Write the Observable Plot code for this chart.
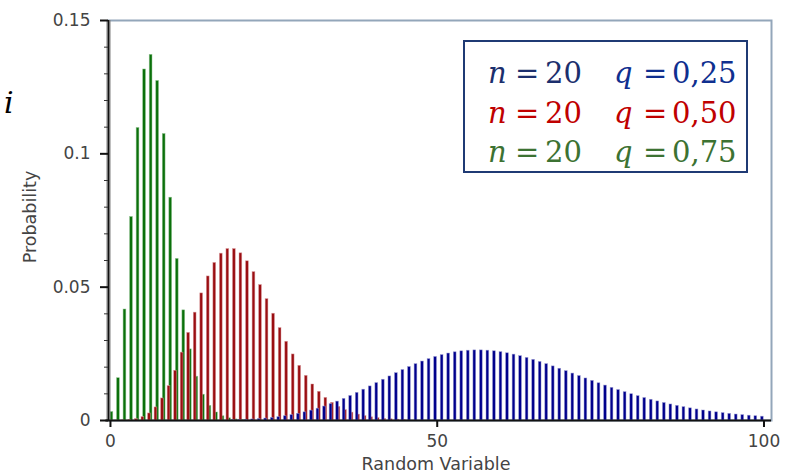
<!DOCTYPE html>
<html>
<head>
<meta charset="utf-8">
<script src="https://cdn.jsdelivr.net/npm/d3@7"></script>
<script src="https://cdn.jsdelivr.net/npm/@observablehq/plot@0.6"></script>
<style>
  html, body { margin: 0; padding: 0; background: #fff; }
  #wrap { position: relative; width: 790px; height: 475px; overflow: hidden; }
  #wrap svg { position: absolute; left: 0; top: 0; }
  #wrap svg text { font-size: 17px; }
  .lbl { position: absolute; font-family: "DejaVu Sans", Verdana, sans-serif; font-size: 17.5px; color: #444; white-space: nowrap; }
  .leg { position: absolute; left: 463px; top: 40px; width: 281px; height: 129px; border: 2px solid #1f3a74; background: #fff; }
  .lt { position: absolute; font-family: "DejaVu Serif", serif; font-size: 29px; line-height: 1; white-space: nowrap; }
  .it { font-style: italic; }
</style>
</head>
<body>
<div id="wrap"></div>
<script>
// ---- data ----
const greenK = [0,1,2,3,4,5,6,7,8,9,10,11,12,13,14,15,16,17,18,19,20];
const greenP = [0.00317,0.01586,0.04162,0.07631,0.10969,0.13163,0.13711,0.12732,0.10743,0.08355,0.06058,0.04130,0.02667,0.01642,0.00967,0.00548,0.00300,0.00159,0.00082,0.00041,0.00020];

const redK = [0,1,2,3,4,5,6,7,8,9,10,11,12,13,14,15,16,17,18,19,20,21,22,23,24,25,26,27,28,29,30,31,32,33,34,35,36,37,38,39,40,41,42,43,44,45];
const redP = [0.000001,0.00001,0.00005,0.00018,0.00053,0.00127,0.00264,0.00490,0.00827,0.01287,0.01865,0.02544,0.03286,0.04044,0.04766,0.05402,0.05908,0.06256,0.06429,0.06429,0.06269,0.05970,0.05563,0.05079,0.04550,0.04004,0.03465,0.02952,0.02477,0.02050,0.01674,0.01350,0.01076,0.00848,0.00661,0.00510,0.00389,0.00295,0.00221,0.00164,0.00121,0.00089,0.00064,0.00046,0.00033,0.00024];

const blueK = [19,20,21,22,23,24,25,26,27,28,29,30,31,32,33,34,35,36,37,38,39,40,41,42,43,44,45,46,47,48,49,50,51,52,53,54,55,56,57,58,59,60,61,62,63,64,65,66,67,68,69,70,71,72,73,74,75,76,77,78,79,80,81,82,83,84,85,86,87,88,89,90,91,92,93,94,95,96,97,98,99,100];
const blueP = [0.00014,0.00020,0.00028,0.00040,0.00054,0.00073,0.00096,0.00125,0.00160,0.00201,0.00250,0.00306,0.00370,0.00443,0.00523,0.00612,0.00708,0.00811,0.00920,0.01036,0.01155,0.01278,0.01402,0.01528,0.01652,0.01774,0.01892,0.02005,0.02112,0.02211,0.02301,0.02382,0.02452,0.02511,0.02558,0.02594,0.02617,0.02629,0.02629,0.02618,0.02596,0.02563,0.02521,0.02470,0.02412,0.02346,0.02273,0.02196,0.02114,0.02029,0.01940,0.01850,0.01759,0.01667,0.01576,0.01486,0.01396,0.01309,0.01224,0.01142,0.01062,0.00986,0.00913,0.00843,0.00777,0.00715,0.00656,0.00601,0.00549,0.00501,0.00456,0.00414,0.00375,0.00339,0.00307,0.00276,0.00249,0.00224,0.00201,0.00180,0.00161,0.00143];

const xTicks = [0, 50, 100];
const xTickLabels = ["0", "50", "100"];
const yTicks = [0, 0.05, 0.1, 0.15];
const yTickLabels = ["0", "0.05", "0.1", "0.15"];
const yMinorTicks = [0.01,0.02,0.03,0.04,0.06,0.07,0.08,0.09,0.11,0.12,0.13,0.14];

const xLabel = "Random Variable";
const yLabel = "Probability";
const legendRows = [
  {n: "n", eq1: "=", v1: "20", q: "q", eq2: "=", v2: "0,25"},
  {n: "n", eq1: "=", v1: "20", q: "q", eq2: "=", v2: "0,50"},
  {n: "n", eq1: "=", v1: "20", q: "q", eq2: "=", v2: "0,75"}
];
const strayGlyph = "i";

// ---- styles ----
const xDomain = [-0.3, 101.15];
const halfW = 0.21;
const series = [
  {k: greenK, p: greenP, off: 0.22, color: "#0b700b", halo: "#8cc08c"},
  {k: redK, p: redP, off: -0.04, color: "#9a0e12", halo: "#d99a9c"},
  {k: blueK, p: blueP, off: -0.25, color: "#00008c", halo: "#9a9ad2"}
];

const marks = [Plot.frame({stroke: "#93a6ba", strokeWidth: 2})];
for (const s of series) {
  const data = s.k.map((k, i) => ({k, p: s.p[i]}));
  marks.push(Plot.rect(data, {
    x1: d => d.k + s.off - halfW, x2: d => d.k + s.off + halfW,
    y1: 0, y2: "p",
    fill: s.color, stroke: s.halo, strokeWidth: 0.6, strokeOpacity: 0.8
  }));
}
const yLab = new Map(yTicks.map((t, i) => [t, yTickLabels[i]]));
const xLab = new Map(xTicks.map((t, i) => [t, xTickLabels[i]]));
marks.push(
  Plot.ruleX([xDomain[0]], {stroke: "#808080", strokeWidth: 4}),
  Plot.ruleX([xDomain[0]], {stroke: "#111", strokeWidth: 1.2}),
  Plot.ruleY([0], {stroke: "#111", strokeWidth: 2, x1: -0.7, x2: xDomain[1]}),
  Plot.axisY(yMinorTicks, {tickSize: 4, stroke: "#333", strokeWidth: 1, tickFormat: () => "", label: null}),
  Plot.axisY(yTicks, {tickSize: 8, tickPadding: 10, stroke: "#111", strokeWidth: 2, tickFormat: d => yLab.get(d),
    fill: "#444", fontSize: 17, label: null}),
  Plot.axisX(xTicks, {tickSize: 7, tickPadding: 7, stroke: "#111", strokeWidth: 2, tickFormat: d => xLab.get(d),
    fill: "#444", fontSize: 17, label: null})
);

const chart = Plot.plot({
  width: 790, height: 475,
  marginTop: 20, marginBottom: 55, marginLeft: 108, marginRight: 19,
  style: {fontFamily: "DejaVu Sans, Verdana, sans-serif", fontSize: "17px", background: "transparent"},
  x: {domain: xDomain, axis: null, label: null},
  y: {domain: [0, 0.15], axis: null, label: null},
  marks
});
const wrap = document.getElementById("wrap");
wrap.appendChild(chart);
d3.select(chart).selectAll("text").style("font-size", "17px");

// axis titles
const xl = document.createElement("div");
xl.className = "lbl"; xl.textContent = xLabel;
xl.style.left = "436px"; xl.style.top = "454px"; xl.style.transform = "translateX(-50%)";
wrap.appendChild(xl);
const yl = document.createElement("div");
yl.className = "lbl"; yl.textContent = yLabel;
yl.style.left = "30px"; yl.style.top = "217px"; yl.style.transform = "translate(-50%,-50%) rotate(-90deg)";
wrap.appendChild(yl);

// stray glyph
const g = document.createElement("div");
g.className = "lt it"; g.textContent = strayGlyph;
g.style.left = "4px"; g.style.top = "88px"; g.style.color = "#000"; g.style.fontSize = "30px";
wrap.appendChild(g);

// legend
const leg = document.createElement("div");
leg.className = "leg";
wrap.appendChild(leg);
const rowColors = [["#1b2f6d", "#0f2f8f"], ["#c00000", "#c00000"], ["#3c7232", "#3c7232"]];
const rowTops = [17, 57, 96];
const pieces = [["n", 23, true], ["eq1", 50, false], ["v1", 80, false], ["q", 149, true], ["eq2", 178, false], ["v2", 207, false]];
legendRows.forEach((r, i) => {
  pieces.forEach(([key, left, ital], j) => {
    const sp = document.createElement("div");
    sp.className = "lt" + (ital ? " it" : "");
    sp.textContent = r[key];
    sp.style.left = left + "px";
    sp.style.top = rowTops[i] + "px";
    sp.style.color = rowColors[i][j < 3 ? 0 : 1];
    leg.appendChild(sp);
  });
});
</script>
</body>
</html>
